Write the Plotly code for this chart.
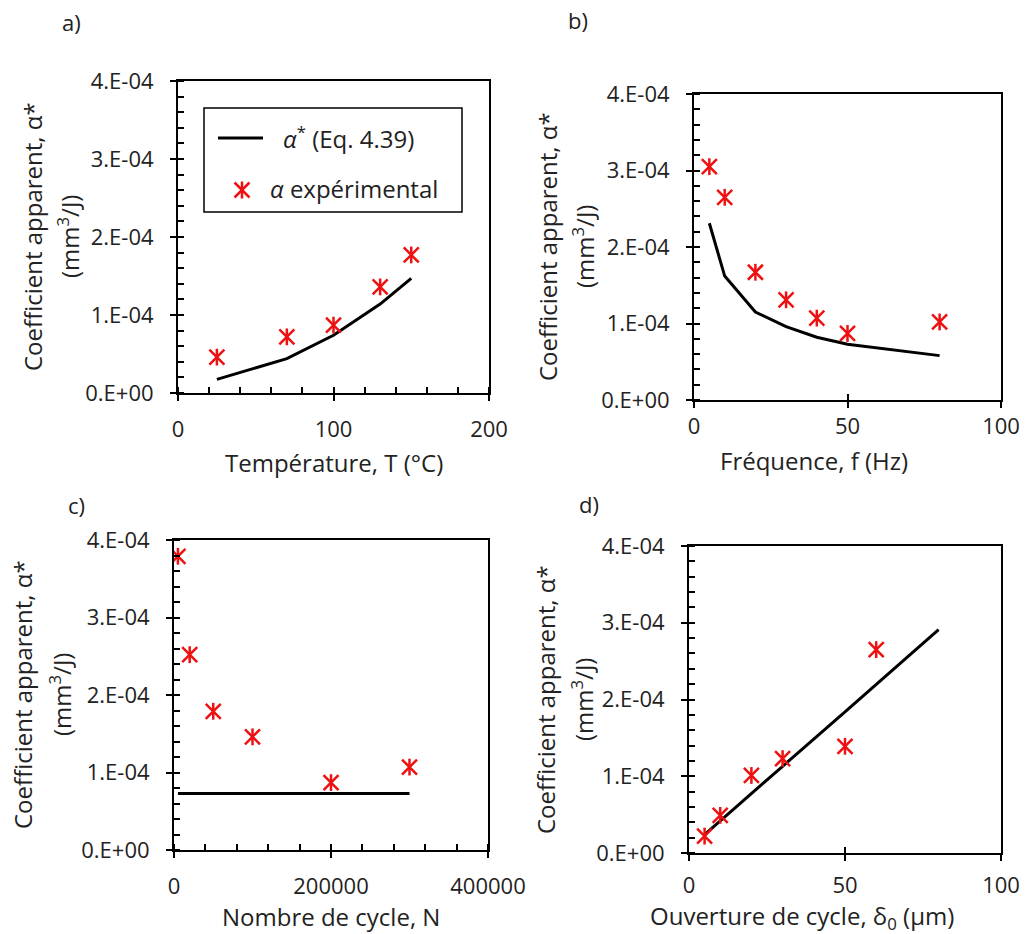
import plotly.graph_objects as go

# ---------------- data ----------------
a_T = [25, 70, 100, 130, 150]
a_model = [1.75e-5, 4.4e-5, 7.4e-5, 1.14e-4, 1.47e-4]
a_exp = [4.6e-5, 7.2e-5, 8.7e-5, 1.36e-4, 1.77e-4]

b_f = [5, 10, 20, 30, 40, 50, 80]
b_model = [2.31e-4, 1.62e-4, 1.15e-4, 9.6e-5, 8.2e-5, 7.3e-5, 5.8e-5]
b_exp = [3.05e-4, 2.65e-4, 1.67e-4, 1.31e-4, 1.07e-4, 8.7e-5, 1.02e-4]

c_N = [5000, 20000, 50000, 100000, 200000, 300000]
c_model = [7.3e-5, 7.3e-5, 7.3e-5, 7.3e-5, 7.3e-5, 7.3e-5]
c_exp = [3.79e-4, 2.52e-4, 1.79e-4, 1.46e-4, 8.7e-5, 1.07e-4]

d_delta_model = [5, 10, 20, 30, 50, 60, 80]
d_model = [2.4e-5, 4.2e-5, 7.8e-5, 1.13e-4, 1.84e-4, 2.2e-4, 2.91e-4]
d_delta_exp = [5, 10, 20, 30, 50, 60]
d_exp = [2.2e-5, 4.9e-5, 1.01e-4, 1.23e-4, 1.39e-4, 2.65e-4]

y_tickvals = [0, 1e-4, 2e-4, 3e-4, 4e-4]
y_ticktext = ["0.E+00", "1.E-04", "2.E-04", "3.E-04", "4.E-04"]
a_xticks = [0, 100, 200]
b_xticks = [0, 50, 100]
c_xticks = [0, 200000, 400000]
d_xticks = [0, 50, 100]

x_titles = ["Température, T (°C)", "Fréquence, f (Hz)",
            "Nombre de cycle, N", "Ouverture de cycle, δ<sub>0</sub> (µm)"]
y_title_1 = "Coefficient apparent, α*"
y_title_2 = "(mm<sup>3</sup>/J)"
panel_labels = ["a)", "b)", "c)", "d)"]
legend_line = "<i>α</i><sup>*</sup> (Eq. 4.39)"
legend_star = "<i>α</i> expérimental"

# ---------------- layout helpers ----------------
W, H = 1027, 934
FONT = "Open Sans"
TXT = "#222222"
RED = "#ee1111"


def px(p):
    return p / W


def py(p):
    return 1 - p / H


# plot-area boxes in pixels: (left, right, top, bottom)
boxes = [(178, 489, 81, 393), (694, 1001, 94, 400),
         (174, 488, 540, 850), (689, 1001, 546, 853)]
xranges = [[0, 200], [0, 100], [0, 400000], [0, 100]]
xtickss = [a_xticks, b_xticks, c_xticks, d_xticks]
xminor = [20, None, 40000, None]
xstandoff = [10, 0, 10, 6]

fig = go.Figure()

series = [(a_T, a_model, a_T, a_exp), (b_f, b_model, b_f, b_exp),
          (c_N, c_model, c_N, c_exp),
          (d_delta_model, d_model, d_delta_exp, d_exp)]

for i, (xm, ym, xe, ye) in enumerate(series):
    xa = "x" if i == 0 else f"x{i+1}"
    ya = "y" if i == 0 else f"y{i+1}"
    fig.add_trace(go.Scatter(x=xm, y=ym, mode="lines", xaxis=xa, yaxis=ya,
                             line=dict(color="black", width=3), showlegend=False))
    fig.add_trace(go.Scatter(x=xe, y=ye, mode="markers", xaxis=xa, yaxis=ya,
                             marker=dict(symbol="x-thin-open", size=15, color=RED,
                                         line=dict(color=RED, width=2.5)),
                             showlegend=False))
    fig.add_trace(go.Scatter(x=xe, y=ye, mode="markers", xaxis=xa, yaxis=ya,
                             marker=dict(symbol="line-ns-open", size=12, color=RED,
                                         line=dict(color=RED, width=2.5)),
                             showlegend=False))
    # empty trace on overlay axes (inner half of crossing major ticks)
    fig.add_trace(go.Scatter(x=[], y=[], xaxis=f"x{i+5}", yaxis=f"y{i+5}",
                             showlegend=False, hoverinfo="skip"))

layout = dict(width=W, height=H,
              margin=dict(l=0, r=0, t=0, b=0, pad=0, autoexpand=False),
              paper_bgcolor="white", plot_bgcolor="white", showlegend=False,
              font=dict(family=FONT, color=TXT))

axis_common = dict(showline=True, linecolor="black", linewidth=2, mirror=True,
                   ticks="outside", ticklen=6, tickwidth=2, tickcolor="black",
                   showgrid=False, zeroline=False, automargin=False,
                   tickfont=dict(family=FONT, size=22, color=TXT))

for i, (l, r, t, b) in enumerate(boxes):
    xk = "xaxis" if i == 0 else f"xaxis{i+1}"
    yk = "yaxis" if i == 0 else f"yaxis{i+1}"
    ya = "y" if i == 0 else f"y{i+1}"
    xa = "x" if i == 0 else f"x{i+1}"
    xd = dict(axis_common, domain=[px(l), px(r)], range=xranges[i], anchor=ya,
              tickmode="array", tickvals=xtickss[i],
              ticktext=[str(v) for v in xtickss[i]], ticklabelstandoff=xstandoff[i])
    if xminor[i]:
        xd["minor"] = dict(dtick=xminor[i], ticks="inside", ticklen=6,
                           tickwidth=2, tickcolor="black", tick0=0)
    yd = dict(axis_common, domain=[py(b), py(t)], range=[0, 4e-4], anchor=xa,
              tickmode="array", tickvals=y_tickvals, ticktext=y_ticktext,
              ticklabelstandoff=12,
              minor=dict(dtick=2e-5, tick0=0, ticks="inside", ticklen=6,
                         tickwidth=2, tickcolor="black"))
    layout[xk] = xd
    layout[yk] = yd
    # overlay axes carrying the inner part of the major ticks
    layout[f"xaxis{i+5}"] = dict(overlaying=xa, anchor=f"y{i+5}", range=xranges[i],
                                 side="bottom", tickmode="array", tickvals=xtickss[i],
                                 ticks="inside", ticklen=6, tickwidth=2,
                                 tickcolor="black", showticklabels=False,
                                 showline=False, showgrid=False, zeroline=False,
                                 automargin=False)
    layout[f"yaxis{i+5}"] = dict(overlaying=ya, anchor=f"x{i+5}", range=[0, 4e-4],
                                 side="left", tickmode="array", tickvals=y_tickvals,
                                 ticks="inside", ticklen=6, tickwidth=2,
                                 tickcolor="black", showticklabels=False,
                                 showline=False, showgrid=False, zeroline=False,
                                 automargin=False)

fig.update_layout(**layout)

ann = []
# axis titles
xt_pos = [(334, 463), (814, 461), (331, 916), (802, 917)]
yt_pos = [(33, 69, 237), (547, 583, 247), (22, 60, 695), (545, 582, 700)]
lab_pos = [(71, 22), (578, 20), (76, 505), (589, 504)]
for i in range(4):
    x0, y0 = xt_pos[i]
    ann.append(dict(x=px(x0), y=py(y0), xref="paper", yref="paper", text=x_titles[i],
                    showarrow=False, xanchor="center", yanchor="middle",
                    font=dict(size=24, family=FONT, color=TXT)))
    x1, x2, yc = yt_pos[i]
    ann.append(dict(x=px(x1), y=py(yc), xref="paper", yref="paper", text=y_title_1,
                    showarrow=False, textangle=-90, xanchor="center", yanchor="middle",
                    font=dict(size=24, family=FONT, color=TXT)))
    ann.append(dict(x=px(x2), y=py(yc), xref="paper", yref="paper", text=y_title_2,
                    showarrow=False, textangle=-90, xanchor="center", yanchor="middle",
                    font=dict(size=24, family=FONT, color=TXT)))
    lx, ly = lab_pos[i]
    ann.append(dict(x=px(lx), y=py(ly), xref="paper", yref="paper", text=panel_labels[i],
                    showarrow=False, xanchor="center", yanchor="middle",
                    font=dict(size=22, family=FONT, color=TXT)))

# legend (panel a)
ann.append(dict(x=px(281), y=py(137), xref="paper", yref="paper", text=legend_line,
                showarrow=False, xanchor="left", yanchor="middle",
                font=dict(size=24, family=FONT, color=TXT)))
ann.append(dict(x=px(268), y=py(189), xref="paper", yref="paper", text=legend_star,
                showarrow=False, xanchor="left", yanchor="middle",
                font=dict(size=24, family=FONT, color=TXT)))

shapes = [
    dict(type="rect", xref="paper", yref="paper", x0=px(204), x1=px(462),
         y0=py(108), y1=py(212), line=dict(color="black", width=1.5),
         fillcolor="white", layer="below"),
    dict(type="line", xref="paper", yref="paper", x0=px(218), x1=px(263),
         y0=py(138), y1=py(138), line=dict(color="black", width=3)),
    dict(type="line", xref="paper", yref="paper", x0=px(234.5), x1=px(249.5),
         y0=py(182.5), y1=py(197.5), line=dict(color=RED, width=2.5)),
    dict(type="line", xref="paper", yref="paper", x0=px(234.5), x1=px(249.5),
         y0=py(197.5), y1=py(182.5), line=dict(color=RED, width=2.5)),
    dict(type="line", xref="paper", yref="paper", x0=px(242), x1=px(242),
         y0=py(181.5), y1=py(198.5), line=dict(color=RED, width=2.5)),
]

fig.update_layout(annotations=ann, shapes=shapes)

fig.write_html("out.html", config={"displayModeBar": False},
               post_script="document.body.style.margin='0px';")
